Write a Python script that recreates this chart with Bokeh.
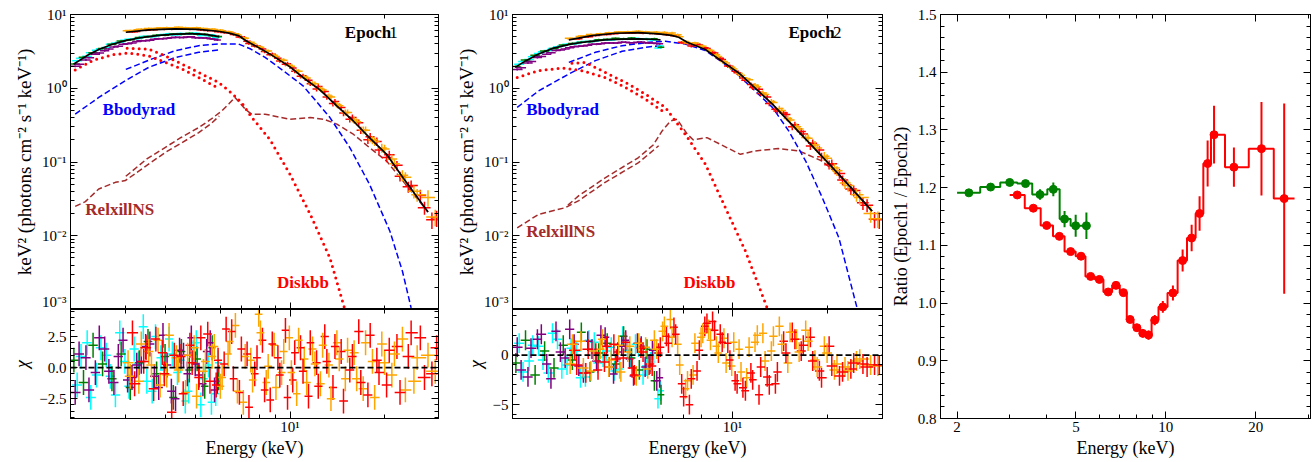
import numpy as np
from bokeh.plotting import figure
from bokeh.layouts import row, column
from bokeh.models import (FixedTicker, CustomJSTickFormatter, LogAxis, LinearAxis,
                          Range1d, Label, Span)
from bokeh.embed import file_html
from bokeh.resources import INLINE

FONT = "Liberation Serif"

# ---------------- energy grids (keV) ----------------
E_lo_a = [2.05, 2.2, 2.36, 2.53, 2.71, 2.9, 3.1, 3.31, 3.53, 3.76, 4.0, 4.25, 4.51, 4.78, 5.06, 5.35, 5.65, 5.93]
E_lo_b = [2.1, 2.26, 2.42, 2.6, 2.78, 2.98, 3.19, 3.41, 3.64, 3.88, 4.12, 4.38, 4.64, 4.92, 5.2, 5.5, 5.8]
E_lo_c = [2.13, 2.29, 2.47, 2.65, 2.84, 3.04, 3.25, 3.47, 3.7, 3.94, 4.19, 4.45, 4.71, 4.99, 5.28, 5.57, 5.87]
E_lo_d = [2.07, 2.24, 2.4, 2.57, 2.75, 2.94, 3.14, 3.36, 3.58, 3.82, 4.06, 4.32, 4.58, 4.85, 5.13, 5.43, 5.75]
E_lo_e = [2.16, 2.32, 2.5, 2.68, 2.87, 3.07, 3.29, 3.5, 3.73, 3.97, 4.22, 4.48, 4.75, 5.03, 5.32, 5.62, 5.91]
E_hi_a = [3.05, 3.3, 3.55, 3.8, 4.05, 4.35, 4.65, 4.95, 5.3, 5.65, 6.0, 6.35, 6.7, 7.1, 7.5, 7.95, 8.4, 8.9, 9.4, 9.95,
          10.5, 11.1, 11.8, 12.5, 13.3, 14.1, 15.0, 16.0, 17.1, 18.3, 19.6, 21.1, 22.8, 24.8, 27.5]
E_hi_b = [3.15, 3.42, 3.68, 3.92, 4.2, 4.5, 4.8, 5.12, 5.47, 5.82, 6.17, 6.52, 6.9, 7.3, 7.72, 8.17, 8.65, 9.15, 9.67, 10.2,
          10.8, 11.45, 12.15, 12.9, 13.7, 14.55, 15.5, 16.55, 17.7, 18.9, 20.3, 21.9, 23.8, 26.0, 28.3]
E_hi_c = [3.1, 3.36, 3.62, 3.86, 4.12, 4.42, 4.72, 5.04, 5.38, 5.74, 6.08, 6.43, 6.8, 7.2, 7.6, 8.05, 8.52, 9.02, 9.55, 10.1,
          10.65, 11.3, 12.0, 12.7, 13.5, 14.35, 15.25, 16.3, 17.4, 18.6, 20.0, 21.5, 23.3, 25.4, 29.0]
E_hi_d = [3.2, 3.48, 3.74, 3.98, 4.28, 4.57, 4.88, 5.2, 5.56, 5.9, 6.26, 6.6, 7.0, 7.4, 7.85, 8.3, 8.78, 9.28, 9.82, 10.35,
          11.0, 11.6, 12.3, 13.1, 13.9, 14.8, 15.8, 16.8, 18.0, 19.2, 20.7, 22.4, 24.3, 26.8, 29.3]
lo_relerr = 0.03
hi_relerr = [0.03, 0.03, 0.03, 0.03, 0.03, 0.03, 0.03, 0.035, 0.035, 0.035, 0.04, 0.04, 0.04, 0.045, 0.045, 0.05, 0.05,
             0.055, 0.06, 0.06, 0.065, 0.07, 0.075, 0.08, 0.085, 0.09, 0.1, 0.11, 0.12, 0.13, 0.14, 0.15, 0.17, 0.2, 0.25]

# ---------------- Epoch 1 spectra  (keV^2 photons cm^-2 s^-1 keV^-1) ----------------
e1_green = [2.14, 2.63, 3.04, 3.46, 3.96, 4.36, 4.55, 4.86, 5.02, 5.25, 5.22, 5.44, 5.38, 5.55, 5.40, 5.41, 5.15, 5.04]
e1_cyan = [2.36, 2.72, 3.28, 3.58, 4.1, 4.48, 4.65, 5.05, 4.98, 5.3, 5.5, 5.3, 5.5, 5.55, 5.2, 5.15, 4.85]
e1_purple = [2.12, 2.6, 3.0, 3.4, 3.72, 4.02, 4.3, 4.4, 4.62, 4.7, 4.85, 4.88, 4.95, 4.85, 4.82, 4.7, 4.5]
e1_purple2 = [1.98, 2.42, 2.9, 3.22, 3.62, 3.95, 4.12, 4.4, 4.48, 4.7, 4.75, 4.92, 4.88, 4.98, 4.85, 4.82, 4.62]
e1_cyan2 = [2.55, 3.02, 3.42, 3.95, 4.22, 4.62, 4.75, 5.05, 5.1, 5.35, 5.33, 5.52, 5.45, 5.55, 5.3, 5.3, 4.95]
e1_orange = [6.0, 6.2, 6.45, 6.5, 6.6, 6.62, 6.6, 6.55, 6.45, 6.3, 6.1, 5.85, 5.5, 4.85, 4.2, 3.65, 3.2, 2.8, 2.42, 2.05,
             1.7, 1.42, 1.16, 0.98, 0.78, 0.6, 0.47, 0.37, 0.27, 0.2, 0.155, 0.11, 0.066, 0.04, 0.033]
e1_orange2 = [6.05, 6.3, 6.4, 6.55, 6.5, 6.7, 6.5, 6.6, 6.35, 6.25, 6.0, 5.8, 5.3, 4.75, 4.0, 3.6, 3.2, 2.7, 2.4, 1.98,
              1.7, 1.38, 1.15, 0.95, 0.76, 0.58, 0.47, 0.35, 0.27, 0.19, 0.15, 0.095, 0.062, 0.036, 0.018]
e1_red = [5.85, 6.15, 6.2, 6.35, 6.3, 6.45, 6.3, 6.35, 6.05, 6.0, 5.7, 5.55, 4.95, 4.35, 3.75, 3.4, 2.85, 2.55, 2.12, 1.88,
          1.45, 1.28, 0.98, 0.9, 0.62, 0.55, 0.38, 0.34, 0.2, 0.19, 0.115, 0.09, 0.046, 0.035, 0.0165]
e1_red2 = [5.9, 6.1, 6.3, 6.3, 6.45, 6.35, 6.4, 6.2, 6.15, 5.85, 5.8, 5.35, 5.0, 4.05, 3.75, 3.15, 2.9, 2.35, 2.15, 1.7,
           1.48, 1.15, 1.06, 0.76, 0.66, 0.46, 0.4, 0.27, 0.22, 0.145, 0.125, 0.064, 0.048, 0.024, 0.0175]
# Epoch 1 residuals (chi)
e1_chi_green = [0.6, -1.2, 1.8, 0.3, -0.9, 1.1, -1.6, 0.4, 2.1, -0.5, 0.9, -2.4, 1.3, -0.2, 0.7, -1.5, 1.6, -0.8]
e1_chi_cyan = [-1.4, 2.0, -0.6, 1.0, -2.2, 0.5, 1.5, 3.3, -1.9, 0.8, 2.3, -0.4, -2.7, 1.2, -3.0, 0.2, -2.1]
e1_chi_purple = [1.1, -1.8, 2.4, -0.3, 0.9, -1.0, 0.2, 1.7, -0.7, 2.6, -1.9, 1.4, -0.5, 0.3, -1.3, 2.0, -1.1]
e1_chi_purple2 = [-2.0, 0.8, -0.4, 1.5, -1.2, 2.2, -0.8, 0.5, 1.9, -1.6, 0.2, -2.5, 1.0, 2.4, -0.6, 1.3, -1.8]
e1_chi_cyan2 = [0.9, -2.4, 1.6, -0.7, 2.8, -1.5, 0.3, -1.1, 2.5, -0.2, 1.1, 0.6, -1.9, 2.0, -0.9, -2.8, 0.4]
e1_chi_orange = [0.4, -1.1, 1.3, 2.2, -0.6, 0.8, -2.0, 1.6, -0.3, 0.9, -1.5, 1.1, 3.4, -2.8, 0.6, 4.3, -1.2, 1.8, -0.4, 2.4,
                 -2.1, 0.7, 1.5, -1.3, 0.2, 2.0, -0.9, 1.2, -1.7, 0.5, 1.9, -0.6, 2.3, -1.1, 1.0]
e1_chi_orange2 = [-0.7, 1.9, 0.2, -1.4, 2.6, -0.2, 1.0, -2.3, 0.5, 1.7, -0.8, 2.1, -1.9, 0.9, -1.0, 2.8, 0.1, -1.6, 1.3, -0.4,
                  2.2, -1.2, 0.3, 1.8, -2.5, 0.7, 1.4, -0.9, 2.0, -2.4, 0.4, 1.1, -1.8, 0.8, -0.3]
e1_chi_red = [2.8, 0.5, -1.7, 1.2, -3.6, 0.9, 1.8, -0.8, 2.7, -1.4, 0.3, 2.9, -2.0, 1.1, -0.5, 2.2, -2.6, 0.8, 3.0, -1.0,
              1.6, -2.3, 0.4, 2.5, -1.6, 1.3, -0.2, 2.9, -2.2, 0.6, -1.4, 1.7, 0.9, 2.4, -0.5]
e1_chi_red2 = [-1.3, 1.6, 2.3, -0.5, 1.0, -2.1, 0.4, 2.4, -1.1, 0.6, 3.1, -0.9, 1.5, -3.2, 0.8, -1.8, 1.9, -0.6, -2.4, 1.2,
               -0.3, 2.0, -1.5, 0.5, 1.7, -2.7, 0.9, -1.2, 2.6, -0.4, 1.4, -2.0, 2.8, -0.8, 1.6]
# Epoch 1 model curves
m1_tot_lo_E = [2.05, 2.25, 2.46, 2.72, 2.99, 3.3, 3.55, 3.9, 4.32, 4.7, 5.12, 5.5, 5.95]
m1_tot_lo_F = [2.13, 2.75, 3.35, 3.95, 4.43, 4.8, 5.0, 5.25, 5.42, 5.48, 5.45, 5.3, 5.0]
m1_tot_hi_E = [3.0, 3.55, 4.3, 5.1, 5.9, 6.4, 6.85, 7.28, 8.0, 8.64, 10.0, 11.0, 12.45, 14.06, 15.9, 17.9, 20.3, 22.9, 27.5]
m1_tot_hi_F = [5.75, 6.2, 6.4, 6.3, 5.93, 5.6, 5.18, 4.34, 3.5, 2.9, 1.95, 1.4, 0.95, 0.58, 0.36, 0.214, 0.127, 0.061, 0.021]
m1_bb_lo_E = [2.07, 2.46, 2.99, 3.55, 4.32, 5.12, 5.92]
m1_bb_lo_F = [0.445, 0.75, 1.27, 1.92, 2.62, 3.07, 3.3]
m1_bb_hi_E = [3.0, 3.64, 4.32, 5.12, 5.92, 6.85, 7.5, 8.33, 9.5, 11.0, 12.2, 13.4, 15.5, 17.9, 20.8, 22.8, 24.3]
m1_bb_hi_F = [1.8, 2.5, 3.24, 3.78, 3.98, 3.98, 3.4, 2.62, 1.74, 1.08, 0.644, 0.40, 0.157, 0.05, 0.0115, 0.0033, 0.00105]
m1_dbb_lo_E = [2.07, 2.35, 2.72, 3.07, 3.55, 4.0, 4.53, 5.12, 5.92]
m1_dbb_lo_F = [1.77, 2.37, 2.86, 3.0, 2.75, 2.25, 1.83, 1.40, 1.0]
m1_dbb_hi_E = [3.03, 3.55, 4.0, 4.53, 5.12, 5.92, 6.54, 7.03, 7.5, 8.64, 10.0, 11.6, 13.4, 14.9]
m1_dbb_hi_F = [3.48, 3.4, 2.75, 2.13, 1.64, 1.2, 0.85, 0.63, 0.42, 0.2, 0.068, 0.0195, 0.005, 0.00105]
m1_rel_lo_E = [2.07, 2.23, 2.46, 2.78, 2.99, 3.5, 4.0, 4.5, 5.12, 5.6, 5.95]
m1_rel_lo_F = [0.025, 0.029, 0.043, 0.053, 0.056, 0.09, 0.134, 0.18, 0.25, 0.33, 0.42]
m1_rel_hi_E = [3.0, 3.5, 4.0, 4.5, 5.12, 5.6, 6.07, 6.4, 6.68, 7.2, 7.55, 8.33, 10.0, 11.6, 12.8, 14.1, 15.9, 17.9, 20.3, 22.9, 27.5]
m1_rel_hi_F = [0.064, 0.11, 0.157, 0.215, 0.293, 0.38, 0.494, 0.62, 0.75, 0.52, 0.445, 0.445, 0.38, 0.40, 0.38, 0.326, 0.238, 0.157, 0.103, 0.055, 0.021]

# ---------------- Epoch 2 spectra ----------------
e2_green = [1.97, 2.42, 2.8, 3.2, 3.45, 3.85, 4.05, 4.2, 4.3, 4.55, 4.6, 4.75, 4.7, 4.8, 4.65, 4.6, 4.7, 3.6]
e2_cyan = [2.12, 2.45, 2.97, 3.25, 3.65, 3.95, 4.05, 4.3, 4.35, 4.55, 4.5, 4.7, 4.6, 4.75, 4.6, 4.55, 3.5]
e2_purple = [1.9, 2.3, 2.7, 3.02, 3.3, 3.55, 3.72, 3.82, 3.95, 4.1, 4.1, 4.2, 4.15, 4.22, 4.15, 4.12, 4.0]
e2_purple2 = [1.8, 2.2, 2.62, 2.9, 3.25, 3.4, 3.65, 3.75, 3.95, 4.0, 4.12, 4.1, 4.22, 4.15, 4.25, 4.1, 4.05]
e2_cyan2 = [2.3, 2.68, 3.12, 3.45, 3.78, 3.95, 4.2, 4.27, 4.5, 4.5, 4.65, 4.6, 4.72, 4.62, 4.7, 4.5, 3.75]
e2_orange = [4.75, 5.05, 5.35, 5.5, 5.65, 5.8, 5.85, 5.87, 5.8, 5.7, 5.6, 5.45, 5.3, 4.3, 4.05, 3.7, 3.3, 2.85, 2.3, 1.92,
             1.58, 1.33, 1.1, 0.86, 0.66, 0.53, 0.39, 0.3, 0.215, 0.17, 0.12, 0.083, 0.052, 0.036, 0.02]
e2_orange2 = [4.7, 5.1, 5.25, 5.45, 5.6, 5.75, 5.8, 5.9, 5.75, 5.75, 5.7, 5.6, 5.0, 4.1, 4.1, 3.7, 3.25, 2.7, 2.2, 1.82,
              1.5, 1.3, 1.05, 0.82, 0.64, 0.5, 0.37, 0.28, 0.21, 0.155, 0.112, 0.076, 0.048, 0.033, 0.017]
e2_red = [4.65, 5.05, 5.2, 5.4, 5.5, 5.65, 5.6, 5.7, 5.55, 5.5, 5.35, 5.15, 4.2, 4.0, 3.95, 3.55, 3.05, 2.55, 2.0, 1.7,
          1.38, 1.12, 0.97, 0.76, 0.52, 0.46, 0.3, 0.26, 0.165, 0.145, 0.092, 0.07, 0.043, 0.028, 0.0168]
e2_red2 = [4.7, 5.0, 5.3, 5.35, 5.6, 5.6, 5.7, 5.6, 5.6, 5.5, 5.4, 5.25, 4.1, 3.75, 3.85, 3.45, 3.0, 2.45, 1.98, 1.62,
           1.28, 1.02, 0.85, 0.62, 0.49, 0.44, 0.32, 0.24, 0.18, 0.118, 0.095, 0.057, 0.041, 0.026, 0.0165]
e2_chi_green = [-0.8, 1.5, -2.0, 0.4, -1.3, 1.0, -0.5, 2.3, -1.7, 0.2, 1.2, -0.9, 1.9, -0.3, -1.5, 0.6, -2.6, -4.0]
e2_chi_cyan = [1.2, -0.6, 0.9, -1.8, 1.6, -1.0, 0.4, -2.2, 1.3, -0.2, 0.8, -1.4, 0.5, 1.1, -2.0, -0.7, -4.4]
e2_chi_purple = [-1.5, 0.7, 2.1, -2.4, 0.3, 2.6, -1.1, 1.4, -0.6, 1.8, -1.9, 0.9, -0.4, 1.2, -1.2, 0.5, -2.3]
e2_chi_purple2 = [0.8, -2.2, 1.6, -0.9, 2.4, -0.3, 1.1, -1.8, 0.6, 2.0, -1.2, 0.3, 1.5, -2.1, 0.9, -1.0, -2.6]
e2_chi_cyan2 = [-1.7, 1.0, -0.5, 2.2, -1.4, 0.7, -2.3, 1.5, -0.8, 0.4, -1.6, 1.9, -0.3, 0.8, -1.1, 0.2, -3.6]
e2_chi_orange = [-0.9, 1.4, -1.6, 0.6, -1.2, 1.0, 0.3, -2.1, 0.8, 1.5, 2.4, 3.6, 1.1, -3.4, -2.0, 1.8, 2.6, 0.9, 1.7, -1.1,
                 0.6, -2.3, 1.3, 2.2, 0.4, 2.9, -0.8, 1.6, 2.5, -0.5, 0.9, -1.5, -1.2, -0.6, -1.0]
e2_chi_orange2 = [1.1, -1.3, 0.4, 1.6, -0.5, -1.7, 0.9, 1.2, -1.4, 0.6, 2.9, 1.8, -1.0, -2.6, 1.2, 2.2, 1.5, 0.2, -0.8, 1.3,
                  -1.7, 0.8, 2.0, -0.6, 1.9, 1.1, 2.3, 0.3, 1.4, -1.2, 0.2, -0.9, -1.6, -0.4, -1.1]
e2_chi_red = [0.5, -1.8, 0.2, -0.7, 1.1, -0.3, -1.3, 0.7, -0.9, 0.2, 1.9, 2.8, -2.9, -5.0, -1.6, 2.9, 3.4, 2.1, 1.2, -2.6,
              -3.3, -1.8, -4.0, -2.2, -2.9, 1.4, 2.3, 0.4, 1.8, -1.6, 0.9, -2.1, -1.4, -0.9, -1.0]
e2_chi_red2 = [-1.0, 0.6, -1.5, 0.9, -0.4, 1.3, -2.0, 0.3, -1.1, 0.8, 1.2, 2.1, -4.2, -2.4, 0.5, 3.2, 2.5, 1.3, -0.5, -2.9,
               -3.6, -2.5, -1.2, -3.0, -1.7, 0.2, 1.6, 1.0, -0.6, -2.3, -1.1, -1.7, -0.8, -1.2, -1.0]
m2_tot_lo_E = [2.04, 2.2, 2.42, 2.7, 3.09, 3.5, 3.94, 4.5, 5.03, 5.5, 5.91]
m2_tot_lo_F = [1.92, 2.35, 2.92, 3.5, 3.99, 4.3, 4.53, 4.64, 4.67, 4.62, 4.53]
m2_tot_hi_E = [3.02, 3.58, 4.25, 5.03, 5.83, 6.4, 6.75, 7.18, 8.2, 9.3, 10.5, 13.4, 17.1, 21.8, 27.8]
m2_tot_hi_F = [4.53, 5.18, 5.57, 5.69, 5.46, 5.2, 4.91, 4.2, 3.35, 2.3, 1.6, 0.61, 0.204, 0.068, 0.0216]
m2_bb_lo_E = [2.07, 2.42, 3.02, 3.67, 4.46, 5.29, 5.91]
m2_bb_lo_F = [0.55, 0.92, 1.56, 2.37, 3.17, 3.59, 3.78]
m2_bb_hi_E = [3.02, 3.67, 4.46, 5.42, 6.12, 7.08, 8.2, 9.3, 10.5, 13.4, 15.1, 17.1, 19.3, 21.8, 24.9]
m2_bb_hi_F = [2.24, 3.07, 3.78, 4.2, 4.34, 3.99, 3.24, 2.25, 1.48, 0.55, 0.264, 0.103, 0.033, 0.0094, 0.00105]
m2_dbb_lo_E = [2.07, 2.42, 2.88, 3.33, 3.94, 4.57, 5.29, 5.98]
m2_dbb_lo_F = [1.40, 1.73, 1.88, 1.73, 1.40, 1.03, 0.71, 0.494]
m2_dbb_hi_E = [3.09, 3.41, 3.94, 4.57, 5.29, 6.12, 7.08, 8.2, 9.5, 11.0, 12.9]
m2_dbb_hi_F = [2.18, 2.24, 1.64, 1.2, 0.834, 0.55, 0.238, 0.094, 0.024, 0.0062, 0.00105]
m2_rel_lo_E = [2.07, 2.42, 2.94, 3.25, 3.94, 5.03, 5.83]
m2_rel_lo_F = [0.0128, 0.0195, 0.024, 0.03, 0.053, 0.098, 0.166]
m2_rel_hi_E = [3.0, 3.25, 3.94, 5.03, 5.6, 5.98, 6.36, 6.67, 7.18, 7.5, 8.3, 10.6, 11.8, 14.0, 16.3, 19.3, 22.9, 27.8]
m2_rel_hi_F = [0.026, 0.035, 0.061, 0.115, 0.17, 0.264, 0.36, 0.38, 0.24, 0.2, 0.214, 0.127, 0.141, 0.152, 0.141, 0.103, 0.055, 0.0216]

# ---------------- Ratio Epoch1 / Epoch2 ----------------
ratio_g_edges = [2.0, 2.39, 2.79, 3.18, 3.57, 4.01, 4.41, 4.80, 5.19, 5.57]
ratio_g_E = [2.19, 2.59, 3.0, 3.39, 3.79, 4.2, 4.58, 4.99, 5.42]
ratio_g = [1.191, 1.201, 1.209, 1.207, 1.188, 1.197, 1.1455, 1.134, 1.134]
ratio_g_err = [0.004, 0.004, 0.005, 0.006, 0.009, 0.012, 0.014, 0.019, 0.023]
ratio_r_edges = [3.0, 3.37, 3.81, 4.19, 4.58, 4.99, 5.38, 5.79, 6.18, 6.61, 7.01, 7.4, 7.79, 8.2, 8.57, 8.96, 9.45,
                 10.13, 10.95, 11.77, 12.58, 13.35, 14.16, 15.78, 18.95, 22.98, 26.97]
ratio_r_E = [3.18, 3.6, 3.99, 4.4, 4.8, 5.2, 5.6, 5.99, 6.41, 6.81, 7.21, 7.59, 8.0, 8.37, 8.75, 9.18, 9.77, 10.56,
             11.38, 12.2, 12.97, 13.8, 14.5, 16.9, 20.9, 24.9]
ratio_r = [1.1873, 1.1644, 1.1345, 1.1156, 1.0892, 1.0812, 1.0462, 1.041, 1.0192, 1.0307, 1.0181, 0.9716, 0.9573,
           0.9475, 0.9446, 0.9705, 0.9934, 1.0175, 1.0737, 1.1127, 1.1552, 1.2418, 1.2917, 1.2355, 1.2676, 1.181]
ratio_r_err = [0.004, 0.004, 0.004, 0.004, 0.004, 0.004, 0.004, 0.004, 0.005, 0.005, 0.006, 0.006, 0.006, 0.007,
               0.008, 0.009, 0.01, 0.013, 0.019, 0.023, 0.03, 0.04, 0.05, 0.034, 0.081, 0.165]

C_GREEN, C_CYAN, C_PURPLE, C_ORANGE, C_RED = "#008000", "#00ffff", "#800080", "#ffa500", "#ff0000"
C_BLUE, C_BROWN = "#0000ff", "#a52a2a"

# ---------------- helpers ----------------
SUP = CustomJSTickFormatter(code="""
const s = {"-": "\u207b", "0": "\u2070", "1": "\u00b9", "2": "\u00b2", "3": "\u00b3"};
const e = Math.round(Math.log10(tick));
return "10" + String(e).split("").map(c => s[c]).join("");
""")


def blank():
    return CustomJSTickFormatter(code="return '';")


def log_y_ticker():
    return FixedTicker(ticks=[1e-3, 1e-2, 1e-1, 1.0, 10.0],
                       minor_ticks=[m * 10.0 ** e for e in range(-3, 1) for m in range(2, 10)])


def e_ticker():
    return FixedTicker(ticks=[10.0], minor_ticks=[2, 3, 4, 5, 6, 7, 8, 9, 20, 30])


def style(ax, show=True, xaxis=False):
    ax.major_tick_in = 7
    ax.major_tick_out = 0
    ax.minor_tick_in = 4
    ax.minor_tick_out = 0
    ax.axis_line_color = "black"
    ax.major_tick_line_color = "black"
    ax.minor_tick_line_color = "black"
    ax.major_label_text_font = FONT
    ax.major_label_text_color = "black"
    ax.axis_label_text_font = FONT
    ax.axis_label_text_font_style = "normal"
    ax.axis_label_text_font_size = "18px"
    ax.axis_label_text_color = "black"
    if show:
        ax.major_label_text_font_size = "15px"
        ax.major_label_standoff = 0 if xaxis else 4
        ax.axis_label_standoff = 0 if xaxis else 4
    else:
        ax.major_label_text_font_size = "0px"
        ax.major_label_standoff = 0
        ax.formatter = blank()


def base_fig(p):
    p.xgrid.visible = False
    p.ygrid.visible = False
    p.outline_line_color = "black"
    p.outline_line_width = 1
    p.outline_line_alpha = 1
    p.background_fill_color = "white"
    p.border_fill_color = "white"


def extra_axes(p, xlog, ylog, xt, yt):
    top = (LogAxis if xlog else LinearAxis)(ticker=xt)
    style(top, False)
    p.add_layout(top, "above")
    rt = (LogAxis if ylog else LinearAxis)(ticker=yt)
    style(rt, False)
    p.add_layout(rt, "right")


def bin_edges(E):
    E = np.asarray(E, float)
    mid = np.sqrt(E[1:] * E[:-1])
    lo = np.concatenate([[E[0] ** 2 / mid[0]], mid])
    hi = np.concatenate([mid, [E[-1] ** 2 / mid[-1]]])
    return lo, hi


def crosses(p, E, y, dy_lo, dy_hi, color, lw=1.5):
    lo, hi = bin_edges(E)
    E = np.asarray(E, float)
    p.segment(x0=lo, y0=y, x1=hi, y1=y, line_color=color, line_width=lw)
    p.segment(x0=E, y0=dy_lo, x1=E, y1=dy_hi, line_color=color, line_width=lw)


def spec_crosses(p, E, F, rel, color):
    F = np.asarray(F, float)
    rel = np.asarray(rel, float) if np.ndim(rel) else rel
    crosses(p, E, F, F * (1 - rel), F * (1 + rel), color)


def chi_crosses(p, E, chi, color):
    chi = np.asarray(chi, float)
    crosses(p, E, chi, chi - 1, chi + 1, color)


def main_panel(xr, left, right, width, spec, models, labels):
    p = figure(width=width, height=309, x_axis_type="log", y_axis_type="log", x_range=xr,
               y_range=Range1d(1e-3, 10), min_border_left=left, min_border_right=right,
               min_border_top=14, min_border_bottom=0, output_backend="svg", toolbar_location=None)
    base_fig(p)
    p.xaxis[0].ticker = e_ticker()
    style(p.xaxis[0], False)
    p.yaxis[0].ticker = log_y_ticker()
    style(p.yaxis[0], True)
    p.yaxis[0].formatter = SUP
    p.yaxis[0].axis_label = "keV\u00b2 (photons cm\u207b\u00b2 s\u207b\u00b9 keV\u207b\u00b9)"
    p.yaxis[0].axis_label_text_font_size = "19px"
    extra_axes(p, True, True, e_ticker(), log_y_ticker())
    (bb_lo, bb_hi, dbb_lo, dbb_hi, rel_lo, rel_hi, tot_lo, tot_hi) = models
    for (x, y) in (rel_lo, rel_hi):
        p.line(x, y, line_color=C_BROWN, line_width=1.5, line_dash="6 3")
    for (x, y) in (bb_lo, bb_hi):
        p.line(x, y, line_color=C_BLUE, line_width=1.5, line_dash="6 3")
    for (x, y) in (dbb_lo, dbb_hi):
        p.line(x, y, line_color=C_RED, line_width=3, line_dash="0 6", line_cap="round")
    for (E, F, rel, col) in spec:
        spec_crosses(p, E, F, rel, col)
    for (x, y) in (tot_lo, tot_hi):
        p.line(x, y, line_color="black", line_width=1.7)
    for (txt, x, y, col, bold) in labels:
        p.add_layout(Label(x=x, y=y, text=txt, text_color=col, text_font=FONT,
                           text_font_size="17px", text_font_style="bold" if bold else "normal",
                           text_baseline="middle", text_align="left"))
    return p


def resid_panel(xr, left, right, width, yr, yticks, yminor, fmt_digits, chis):
    r = figure(width=width, height=151, x_axis_type="log", x_range=xr, y_range=Range1d(*yr),
               min_border_left=left, min_border_right=right, min_border_top=0, min_border_bottom=38,
               output_backend="svg", toolbar_location=None)
    base_fig(r)
    r.xaxis[0].ticker = e_ticker()
    style(r.xaxis[0], True, xaxis=True)
    r.xaxis[0].formatter = SUP
    r.xaxis[0].axis_label = "Energy (keV)"
    r.yaxis[0].ticker = FixedTicker(ticks=yticks, minor_ticks=yminor)
    style(r.yaxis[0], True)
    r.yaxis[0].formatter = CustomJSTickFormatter(
        code="return tick.toFixed(%d).replace('-', '\u2212');" % fmt_digits)
    r.yaxis[0].axis_label = "\u03c7"
    r.yaxis[0].axis_label_text_font_style = "italic"
    extra_axes(r, True, False, e_ticker(), FixedTicker(ticks=yticks, minor_ticks=yminor))
    for (E, chi, col) in chis:
        chi_crosses(r, E, chi, col)
    r.add_layout(Span(location=0, dimension="width", line_color="black", line_width=1.6, line_dash="6 3"))
    return r


# ---------------- Epoch 1 ----------------
xr1 = Range1d(2.0, 29.7)
models1 = ((m1_bb_lo_E, m1_bb_lo_F), (m1_bb_hi_E, m1_bb_hi_F), (m1_dbb_lo_E, m1_dbb_lo_F), (m1_dbb_hi_E, m1_dbb_hi_F),
           (m1_rel_lo_E, m1_rel_lo_F), (m1_rel_hi_E, m1_rel_hi_F), (m1_tot_lo_E, m1_tot_lo_F), (m1_tot_hi_E, m1_tot_hi_F))
spec1 = [(E_lo_b, e1_cyan, lo_relerr, C_CYAN), (E_lo_e, e1_cyan2, lo_relerr, C_CYAN),
         (E_lo_a, e1_green, lo_relerr, C_GREEN),
         (E_lo_c, e1_purple, lo_relerr, C_PURPLE), (E_lo_d, e1_purple2, lo_relerr, C_PURPLE),
         (E_hi_b, e1_red, hi_relerr, C_RED), (E_hi_d, e1_red2, hi_relerr, C_RED),
         (E_hi_a, e1_orange, hi_relerr, C_ORANGE), (E_hi_c, e1_orange2, hi_relerr, C_ORANGE)]
chis1 = [(E_lo_b, e1_chi_cyan, C_CYAN), (E_lo_e, e1_chi_cyan2, C_CYAN), (E_lo_a, e1_chi_green, C_GREEN),
         (E_lo_c, e1_chi_purple, C_PURPLE), (E_lo_d, e1_chi_purple2, C_PURPLE),
         (E_hi_a, e1_chi_orange, C_ORANGE), (E_hi_b, e1_chi_red, C_RED),
         (E_hi_c, e1_chi_orange2, C_ORANGE), (E_hi_d, e1_chi_red2, C_RED)]
labels1 = [("Bbodyrad", 2.53, 0.52, C_BLUE, True), ("RelxillNS", 2.23, 0.0226, C_BROWN, True),
           ("Diskbb", 9.09, 0.00229, C_RED, True), ("Epoch", 14.95, 5.78, "black", True),
           ("1", 20.7, 5.78, "black", False)]
p1 = main_panel(xr1, 70, 10, 448, spec1, models1, labels1)
r1 = resid_panel(xr1, 70, 10, 448, (-4.1, 4.68), [-2.5, 0, 2.5],
                 [-4, -3.5, -3, -2, -1.5, -1, -0.5, 0.5, 1, 1.5, 2, 3, 3.5, 4, 4.5], 1, chis1)

# ---------------- Epoch 2 ----------------
xr2 = Range1d(2.0, 30.0)
models2 = ((m2_bb_lo_E, m2_bb_lo_F), (m2_bb_hi_E, m2_bb_hi_F), (m2_dbb_lo_E, m2_dbb_lo_F), (m2_dbb_hi_E, m2_dbb_hi_F),
           (m2_rel_lo_E, m2_rel_lo_F), (m2_rel_hi_E, m2_rel_hi_F), (m2_tot_lo_E, m2_tot_lo_F), (m2_tot_hi_E, m2_tot_hi_F))
spec2 = [(E_lo_b, e2_cyan, lo_relerr, C_CYAN), (E_lo_e, e2_cyan2, lo_relerr, C_CYAN),
         (E_lo_a, e2_green, lo_relerr, C_GREEN),
         (E_lo_c, e2_purple, lo_relerr, C_PURPLE), (E_lo_d, e2_purple2, lo_relerr, C_PURPLE),
         (E_hi_b, e2_red, hi_relerr, C_RED), (E_hi_d, e2_red2, hi_relerr, C_RED),
         (E_hi_a, e2_orange, hi_relerr, C_ORANGE), (E_hi_c, e2_orange2, hi_relerr, C_ORANGE)]
chis2 = [(E_lo_b, e2_chi_cyan, C_CYAN), (E_lo_e, e2_chi_cyan2, C_CYAN), (E_lo_a, e2_chi_green, C_GREEN),
         (E_lo_c, e2_chi_purple, C_PURPLE), (E_lo_d, e2_chi_purple2, C_PURPLE),
         (E_hi_a, e2_chi_orange, C_ORANGE), (E_hi_b, e2_chi_red, C_RED),
         (E_hi_c, e2_chi_orange2, C_ORANGE), (E_hi_d, e2_chi_red2, C_RED)]
labels2 = [("Bbodyrad", 2.21, 0.52, C_BLUE, True), ("RelxillNS", 2.21, 0.0115, C_BROWN, True),
           ("Diskbb", 6.99, 0.00229, C_RED, True), ("Epoch", 15.07, 5.78, "black", True),
           ("2", 20.9, 5.78, "black", False)]
p2 = main_panel(xr2, 64, 5, 439, spec2, models2, labels2)
r2 = resid_panel(xr2, 64, 5, 439, (-6.4, 4.6), [-5, 0],
                 [-6, -4, -3, -2, -1, 1, 2, 3, 4], 0, chis2)

# ---------------- Ratio panel ----------------
p3 = figure(width=426, height=460, x_axis_type="log", x_range=Range1d(1.76, 30.5), y_range=Range1d(0.8, 1.5),
            min_border_left=52, min_border_right=3, min_border_top=14, min_border_bottom=39,
            output_backend="svg", toolbar_location=None)
base_fig(p3)


def xt3():
    return FixedTicker(ticks=[2, 5, 10, 20], minor_ticks=[3, 4, 6, 7, 8, 9, 30])


def yt3():
    return FixedTicker(ticks=[0.8, 0.9, 1.0, 1.1, 1.2, 1.3, 1.4, 1.5],
                       minor_ticks=[round(0.8 + 0.02 * i, 2) for i in range(36)])


p3.xaxis[0].ticker = xt3()
style(p3.xaxis[0], True, xaxis=True)
p3.xaxis[0].major_label_standoff = 3
p3.xaxis[0].axis_label_standoff = 3
p3.xaxis[0].formatter = CustomJSTickFormatter(code="return tick.toFixed(0);")
p3.xaxis[0].axis_label = "Energy (keV)"
p3.yaxis[0].ticker = yt3()
style(p3.yaxis[0], True)
p3.yaxis[0].formatter = CustomJSTickFormatter(code="return tick.toFixed(1);")
p3.yaxis[0].axis_label = "Ratio (Epoch1 / Epoch2)"
extra_axes(p3, True, False, xt3(), yt3())

for edges, E, v, err, col in ((ratio_g_edges, ratio_g_E, ratio_g, ratio_g_err, C_GREEN),
                              (ratio_r_edges, ratio_r_E, ratio_r, ratio_r_err, C_RED)):
    v = np.asarray(v, float)
    err = np.asarray(err, float)
    p3.step(x=edges, y=list(v) + [v[-1]], mode="after", line_color=col, line_width=2)
    p3.segment(x0=E, y0=v - err, x1=E, y1=v + err, line_color=col, line_width=2)
    p3.scatter(x=E, y=v, size=8, marker="circle", fill_color=col, line_color=col)

layout = row(column(p1, r1), column(p2, r2), p3)
open("out.html", "w", encoding="utf-8").write(file_html(layout, INLINE))
